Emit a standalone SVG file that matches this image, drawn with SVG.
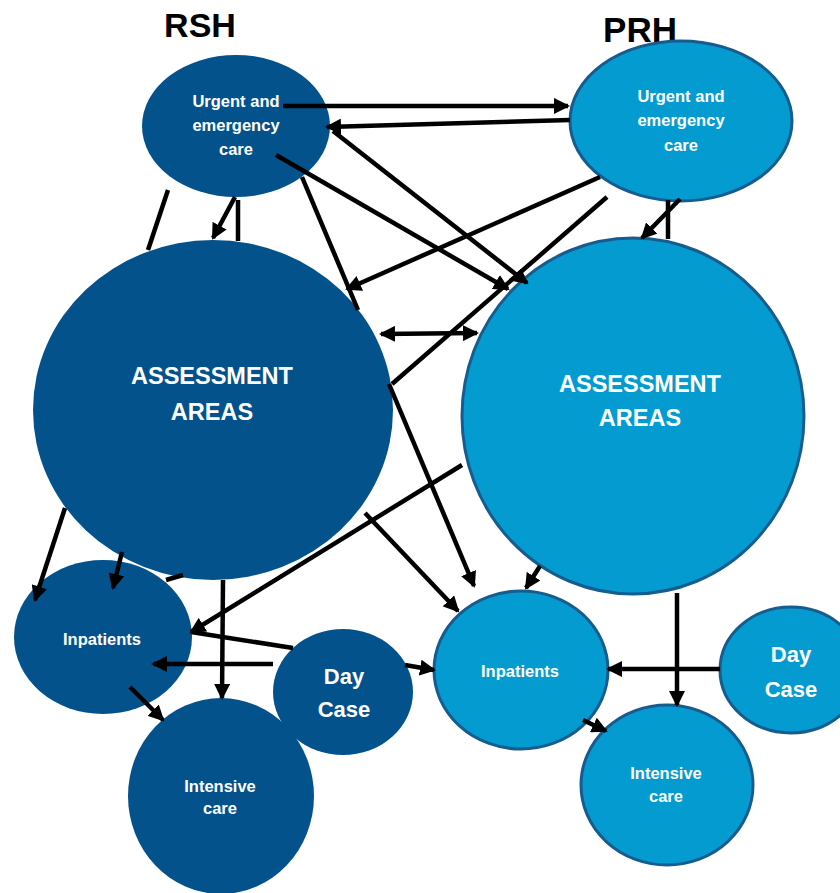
<svg xmlns="http://www.w3.org/2000/svg" width="840" height="893" viewBox="0 0 840 893">
<defs>
<style>
.dark{fill:#03528C;}
.light{fill:#049BD0;stroke:#175C8E;stroke-width:3;}
.t{font-family:"Liberation Sans",Arial,sans-serif;font-weight:bold;fill:#FFFFFF;text-anchor:middle;}
.title{font-family:"Liberation Sans",Arial,sans-serif;font-weight:bold;fill:#000000;text-anchor:middle;}
.c{stroke:#000000;stroke-width:4.5;fill:none;}
.a{marker-end:url(#ah);}
.d{marker-start:url(#ah);marker-end:url(#ah);}
</style>
<marker id="ah" viewBox="0 0 16 16" refX="14" refY="8" markerWidth="16" markerHeight="16" markerUnits="userSpaceOnUse" orient="auto-start-reverse">
<path d="M0,0 L16,8 L0,16 z" fill="#000000"/>
</marker>
</defs>
<rect width="840" height="893" fill="#FFFFFF"/>
<text class="title" x="200" y="37" font-size="34">RSH</text>
<text class="title" x="640" y="42" font-size="35">PRH</text>

<g id="rsh-uec">
<ellipse class="dark" cx="236" cy="126" rx="94" ry="71"/>
<text class="t" font-size="16.5"><tspan x="236" y="107">Urgent and</tspan><tspan x="236" y="131">emergency</tspan><tspan x="236" y="155">care</tspan></text>
</g>
<g id="prh-uec">
<ellipse class="light" cx="681" cy="121" rx="111" ry="80"/>
<text class="t" font-size="16.5"><tspan x="681" y="102">Urgent and</tspan><tspan x="681" y="126">emergency</tspan><tspan x="681" y="151">care</tspan></text>
</g>
<g id="rsh-assessment">
<ellipse class="dark" cx="213" cy="410" rx="180" ry="170"/>
<text class="t" font-size="23.5"><tspan x="212" y="384">ASSESSMENT</tspan><tspan x="212" y="420">AREAS</tspan></text>
</g>
<g id="prh-assessment">
<ellipse class="light" cx="633" cy="416" rx="171" ry="178"/>
<text class="t" font-size="23.5"><tspan x="640" y="392">ASSESSMENT</tspan><tspan x="640" y="426">AREAS</tspan></text>
</g>
<g id="rsh-inpatients">
<ellipse class="dark" cx="103" cy="637" rx="89" ry="77"/>
<text class="t" font-size="16.5" x="102" y="645">Inpatients</text>
</g>
<g id="rsh-daycase">
<ellipse class="dark" cx="343" cy="692" rx="70" ry="63"/>
<text class="t" font-size="22"><tspan x="344" y="684">Day</tspan><tspan x="344" y="717">Case</tspan></text>
</g>
<g id="rsh-intensive">
<ellipse class="dark" cx="221" cy="796" rx="93" ry="98"/>
<text class="t" font-size="16.5"><tspan x="220" y="792">Intensive</tspan><tspan x="220" y="814">care</tspan></text>
</g>
<g id="prh-inpatients">
<ellipse class="light" cx="521" cy="670" rx="87" ry="79"/>
<text class="t" font-size="16.5" x="520" y="677">Inpatients</text>
</g>
<g id="prh-daycase">
<ellipse class="light" cx="791" cy="670" rx="71" ry="63" stroke="none"/>
<text class="t" font-size="22"><tspan x="791" y="662">Day</tspan><tspan x="791" y="697">Case</tspan></text>
</g>
<g id="prh-intensive">
<ellipse class="light" cx="667" cy="785" rx="86" ry="80"/>
<text class="t" font-size="16.5"><tspan x="666" y="779">Intensive</tspan><tspan x="666" y="802">care</tspan></text>
</g>

<g id="connectors">
<line class="c a" x1="283" y1="106" x2="568" y2="106"/>
<line class="c a" x1="570" y1="120" x2="327" y2="127"/>
<line class="c a" x1="276" y1="155" x2="508" y2="289"/>
<line class="c a" x1="333" y1="131" x2="527" y2="283"/>
<line class="c" x1="302" y1="177" x2="358" y2="310"/>
<line class="c a" x1="389" y1="384" x2="474" y2="586"/>
<line class="c a" x1="600" y1="177" x2="347" y2="289"/>
<line class="c" x1="607" y1="197" x2="392" y2="384"/>
<line class="c d" x1="381" y1="334" x2="477" y2="333"/>
<line class="c a" x1="680" y1="199" x2="642" y2="238"/>
<line class="c" x1="668" y1="200" x2="668" y2="239"/>
<line class="c a" x1="235" y1="197" x2="213" y2="238"/>
<line class="c" x1="238" y1="200" x2="238" y2="241"/>
<line class="c" x1="168" y1="190" x2="148" y2="250"/>
<line class="c a" x1="65" y1="508" x2="35" y2="600"/>
<line class="c a" x1="122" y1="552" x2="113" y2="588"/>
<line class="c" x1="166" y1="580" x2="183" y2="575"/>
<line class="c a" x1="462" y1="465" x2="191" y2="632"/>
<line class="c" x1="191" y1="632" x2="293" y2="648"/>
<line class="c a" x1="405" y1="665" x2="434" y2="670"/>
<line class="c a" x1="273" y1="664" x2="153" y2="664"/>
<line class="c a" x1="130" y1="687" x2="163" y2="720"/>
<line class="c a" x1="223" y1="580" x2="222" y2="698"/>
<line class="c a" x1="365" y1="513" x2="458" y2="611"/>
<line class="c a" x1="540" y1="566" x2="526" y2="588"/>
<line class="c a" x1="677" y1="593" x2="677" y2="705"/>
<line class="c a" x1="720" y1="669" x2="608" y2="669"/>
<line class="c a" x1="583" y1="720" x2="606" y2="731"/>
</g>
</svg>
